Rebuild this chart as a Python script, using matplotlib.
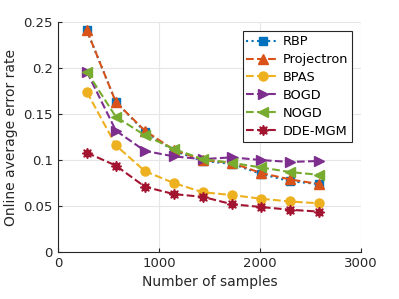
import numpy as np
import matplotlib
matplotlib.use('Agg')
import matplotlib.pyplot as plt

# Data
samples = [287, 574, 861, 1148, 1435, 1722, 2009, 2296, 2583]
rbp = [0.241, 0.163, 0.131, 0.110, 0.099, 0.096, 0.085, 0.077, 0.074]
projectron = [0.241, 0.163, 0.132, 0.111, 0.100, 0.097, 0.086, 0.079, 0.074]
bpas = [0.174, 0.116, 0.088, 0.075, 0.065, 0.062, 0.058, 0.055, 0.053]
bogd = [0.196, 0.132, 0.110, 0.104, 0.101, 0.103, 0.100, 0.098, 0.099]
nogd = [0.196, 0.147, 0.127, 0.112, 0.101, 0.097, 0.092, 0.087, 0.084]
dde_mgm = [0.108, 0.094, 0.071, 0.063, 0.060, 0.052, 0.049, 0.046, 0.044]

fig = plt.figure(figsize=(3.99, 2.99), dpi=100)
ax = fig.add_axes([0.145, 0.157, 0.76, 0.769])

ax.plot(samples, rbp, ':', color='#0072BD', marker='s', markersize=6, linewidth=1.5, label='RBP')
ax.plot(samples, projectron, '--', color='#D95319', marker='^', markersize=7, linewidth=1.5, label='Projectron')
ax.plot(samples, bpas, '--', color='#EDB120', marker='o', markersize=6.5, linewidth=1.5, label='BPAS')
ax.plot(samples, bogd, '--', color='#7E2F8E', marker='>', markersize=7, linewidth=1.5, label='BOGD')
ax.plot(samples, nogd, '--', color='#77AC30', marker='<', markersize=7, linewidth=1.5, label='NOGD')
ax.plot(samples, dde_mgm, '--', color='#A2142F', marker=(8, 1, 0), markersize=7.5, linewidth=1.5, label='DDE-MGM')

ax.set_xlim(0, 3000)
ax.set_ylim(0, 0.25)
ax.set_xticks([0, 1000, 2000, 3000])
ax.set_yticks([0, 0.05, 0.1, 0.15, 0.2, 0.25])
ax.set_yticklabels(['0', '0.05', '0.1', '0.15', '0.2', '0.25'])
ax.tick_params(direction='in', length=3, labelsize=9.5, colors='#262626')
ax.grid(True, color='#e6e6e6', linewidth=0.8)
ax.set_axisbelow(True)
for s in ['top', 'right']:
    ax.spines[s].set_visible(False)
for s in ['left', 'bottom']:
    ax.spines[s].set_color('#262626')
    ax.spines[s].set_linewidth(0.8)

ax.set_xlabel('Number of samples', fontsize=10, color='#262626')
ax.set_ylabel('Online average error rate', fontsize=10, color='#262626')

leg = ax.legend(loc='upper right', bbox_to_anchor=(0.97, 0.96), fontsize=9.3, fancybox=False,
                edgecolor='#262626', framealpha=1, handlelength=2.5, borderpad=0.3,
                labelspacing=0.38, handletextpad=0.3, borderaxespad=0)
leg.get_frame().set_linewidth(0.8)

plt.savefig('out.png', dpi=100)
